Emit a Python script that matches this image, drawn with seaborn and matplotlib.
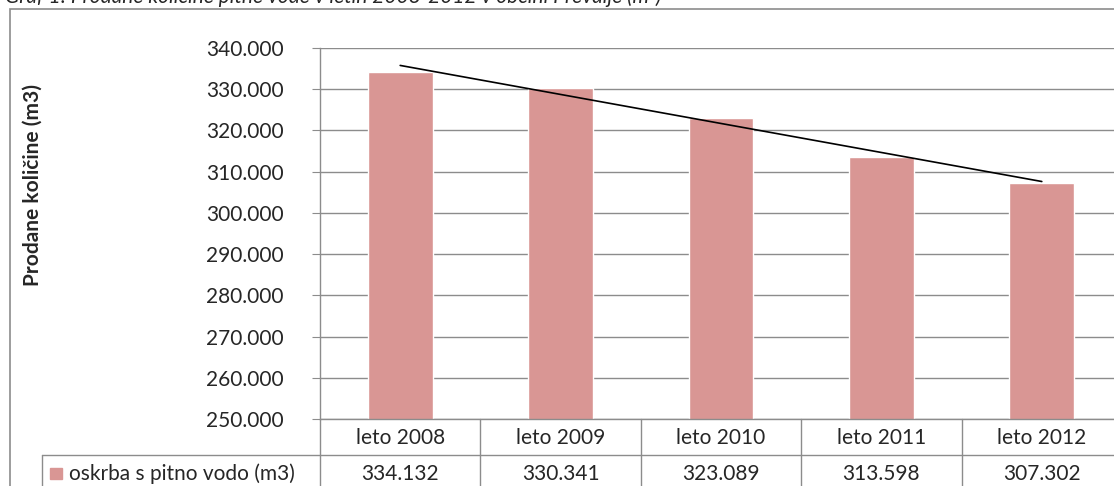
import numpy as np
import pandas as pd
import matplotlib
matplotlib.use("Agg")
import matplotlib.pyplot as plt
import matplotlib.transforms as mtransforms
from matplotlib.patches import Rectangle
import seaborn as sns

# data
years = ["leto 2008", "leto 2009", "leto 2010", "leto 2011", "leto 2012"]
water = [334132, 330341, 323089, 313598, 307302]
series_name = "oskrba s pitno vodo (m3)"
title = "Graf 1: Prodane količine pitne vode v letih 2008-2012 v občini Prevalje (m³)"
y_ticks = [250000, 260000, 270000, 280000, 290000, 300000, 310000, 320000, 330000, 340000]

df = pd.DataFrame({"leto": years, "kolicina": water})

sns.set_style("white")
plt.rcParams["font.family"] = ["Lato", "DejaVu Sans"]

bar_color = "#D99694"
line_gray = "#8C8C8C"
fs = 15

fig = plt.figure(figsize=(11.14, 4.86), dpi=100)
ax = fig.add_axes([320 / 1114, 67 / 486, 802 / 1114, 371 / 486])

sns.barplot(data=df, x="leto", y="kolicina", color=bar_color, width=0.405,
            saturation=1, ax=ax)

# linear trend line
xs = np.arange(len(water))
k, n = np.polyfit(xs, water, 1)
ax.plot(xs, k * xs + n, color="black", lw=1.2)

ax.set_ylim(250000, 340000)
ax.set_xlim(-0.5, len(years) - 0.5)
ax.set_yticks(y_ticks)
ax.set_yticklabels([f"{v:,}".replace(",", ".") for v in y_ticks], fontsize=fs)
ax.set_xticks([])
ax.set_xlabel("")
ax.set_ylabel("")
ax.grid(axis="y", color=line_gray, lw=1)
ax.set_axisbelow(True)
for s in ["top", "right"]:
    ax.spines[s].set_visible(False)
for s in ["left", "bottom"]:
    ax.spines[s].set_color(line_gray)
    ax.spines[s].set_linewidth(1)
ax.tick_params(axis="y", length=6, color=line_gray, direction="out", pad=20, left=True)

fig.text(33 / 1114, 0.62, "Prodane količine (m3)", rotation=90, fontsize=fs,
         fontweight="bold", ha="center", va="center")

# data table under the axis
tr = mtransforms.blended_transform_factory(ax.transData, fig.transFigure)
y_axis = 67 / 486
y_row = 31 / 486
for i in range(len(years) + 1):
    ax.plot([i - 0.5, i - 0.5], [-0.05, y_axis], transform=tr, color=line_gray,
            lw=1, clip_on=False)
ax.plot([-0.5, len(years) - 0.5], [y_row, y_row], transform=tr, color=line_gray,
        lw=1, clip_on=False)
fig.add_artist(plt.Line2D([42 / 1114, 320 / 1114], [y_row, y_row], color=line_gray, lw=1))
fig.add_artist(plt.Line2D([42 / 1114, 42 / 1114], [-0.05, y_row], color=line_gray, lw=1))

for i, (lab, v) in enumerate(zip(years, water)):
    ax.text(i, 48 / 486, lab, transform=tr, ha="center", va="center", fontsize=fs)
    ax.text(i, 12 / 486, f"{v:,}".replace(",", "."), transform=tr, ha="center",
            va="center", fontsize=fs)

fig.add_artist(Rectangle((50 / 1114, 7 / 486), 12 / 1114, 11 / 486,
                         transform=fig.transFigure, color=bar_color))
fig.text(69 / 1114, 12 / 486, series_name, fontsize=fs, ha="left", va="center")

# chart frame and half-cut title
fig.add_artist(Rectangle((10 / 1114, -0.1), 1.1, 1.1 - 9 / 486,
                         transform=fig.transFigure, fill=False,
                         edgecolor=line_gray, lw=1.2))
fig.text(5 / 1114, 1 - 3 / 486, title, fontsize=fs, style="italic",
         ha="left", va="baseline")

fig.savefig("out.png", dpi=100)
